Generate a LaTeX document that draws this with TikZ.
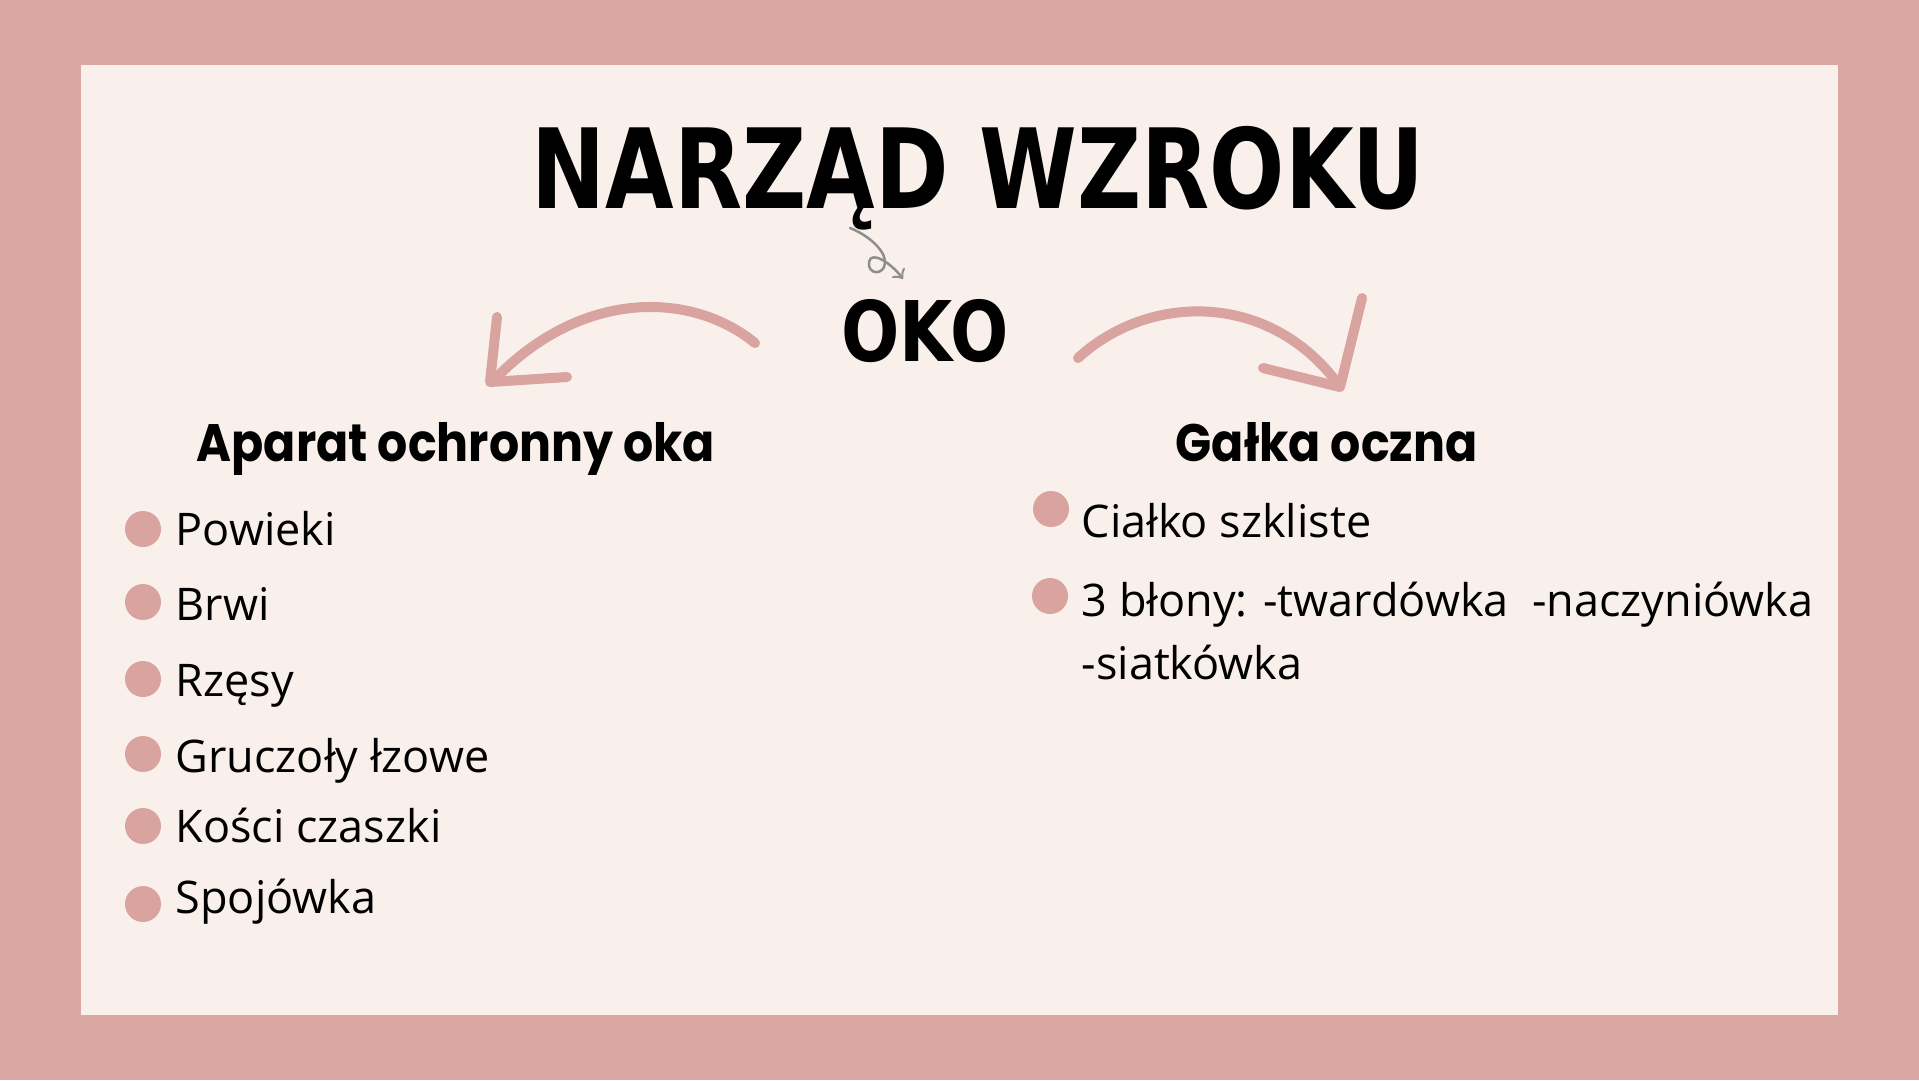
\documentclass[tikz,border=0pt]{standalone}
\usepackage{fontspec}
\setmainfont{Open Sans}
\newfontfamily\titlefont{DejaVu Sans}
\newfontfamily\headfont{Poppins}
\usepackage{tikz}

\definecolor{frame}{HTML}{DBA7A2}
\definecolor{paper}{HTML}{FAF0EB}
\definecolor{rose}{HTML}{D9A39F}
\definecolor{pencil}{HTML}{8E8E8E}

\begin{document}
\begin{tikzpicture}[x=0.1mm,y=-0.1mm,
  title/.style={inner sep=0pt,anchor=base,font=\titlefont\bfseries\fontsize{#1}{#1}\selectfont},
  heading/.style={inner sep=0pt,anchor=base west,font=\headfont\bfseries\fontsize{15}{15}\selectfont},
  item/.style={inner sep=0pt,anchor=base west,font=\fontsize{12.8}{18.2}\selectfont},
  dot/.style={circle,fill=rose,inner sep=0pt,minimum size=3.6mm},
  swoosh/.style={rose,line width=1mm,line cap=round,line join=round}]

%% Background
\fill[frame] (0,0) rectangle (1919,1080);
\fill[paper] (81,65) rectangle (1838,1015);
\useasboundingbox (0,0) rectangle (1919,1080);

%% Titles
\node[title=31.5] (narzad) at (978,208) {\scalebox{0.8}[1]{NARZĄD WZROKU}};
\node[title=23.8] (oko) at (925,361) {\scalebox{0.82}[1]{OKO}};

%% Small arrow under the title
\coordinate (curlA) at (850,228);
\coordinate (curlB) at (903,279);
\draw[pencil,line width=0.25mm,line cap=round,->] (curlA) .. controls (868,235) and (885,250) .. (885,262)
  .. controls (885,276) and (867,275) .. (869,262) .. controls (871,250) and (891,263) .. (curlB);

%% Pink arrows
\coordinate (leftA) at (755,343);
\coordinate (leftB) at (494,380);
\draw[swoosh] (leftA) .. controls (690,290) and (580,290) .. (leftB);
\draw[swoosh] (497,317) -- (490,382) -- (567,377);

\coordinate (rightA) at (1078,358);
\coordinate (rightB) at (1338,384);
\draw[swoosh] (rightA) .. controls (1150,292) and (1270,292) .. (rightB);
\draw[swoosh] (1362,298) -- (1340,387) -- (1263,368);

%% Left column
\node[heading] (aparat) at (196,461) {\scalebox{0.9}[1]{Aparat ochronny oka}};
\node[dot] (d1) at (143,529) {};
\node[item] (powieki) at (175,545) {Powieki};
\node[dot] (d2) at (143,602) {};
\node[item] (brwi) at (175,620) {Brwi};
\node[dot] (d3) at (143,679) {};
\node[item] (rzesy) at (175,696) {Rzęsy};
\node[dot] (d4) at (143,754) {};
\node[item] (gruczoly) at (175,772) {Gruczoły łzowe};
\node[dot] (d5) at (143,826) {};
\node[item] (kosci) at (175,842) {Kości czaszki};
\node[dot] (d6) at (143,904) {};
\node[item] (spojowka) at (175,913) {Spojówka};

%% Right column
\node[heading] (galka) at (1175,461) {\scalebox{0.9}[1]{Gałka oczna}};
\node[dot] (d7) at (1051,509) {};
\node[item] (cialko) at (1081,537) {Ciałko szkliste};
\node[dot] (d8) at (1050,596) {};
\node[item] (blony) at (1081,616) {3 błony: -twardówka\ \ -naczyniówka};
\node[item] (siatkowka) at (1081,679) {-siatkówka};
\end{tikzpicture}
\end{document}
